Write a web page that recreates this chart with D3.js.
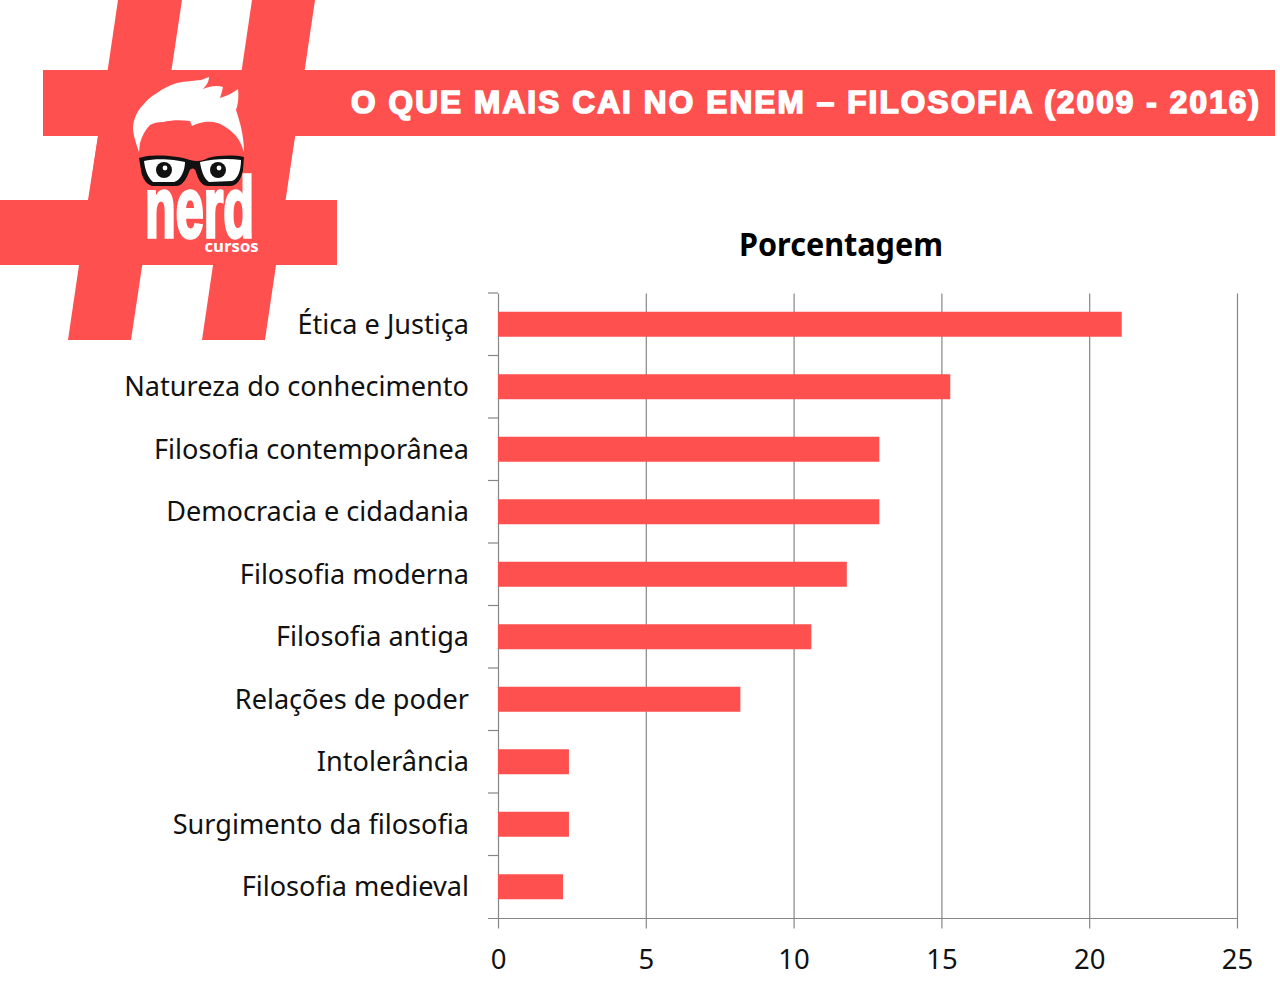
<!DOCTYPE html>
<html><head><meta charset="utf-8">
<script src="https://cdn.jsdelivr.net/npm/d3@7"></script>
<style>html,body{margin:0;padding:0;background:#fff}svg{display:block}</style>
</head><body><svg id="c" width="1280" height="989"></svg>
<script>
const categories=["Ética e Justiça","Natureza do conhecimento","Filosofia contemporânea","Democracia e cidadania","Filosofia moderna","Filosofia antiga","Relações de poder","Intolerância","Surgimento da filosofia","Filosofia medieval"];
const values=[21.1,15.3,12.9,12.9,11.8,10.6,8.2,2.4,2.4,2.2];
const xTicks=[0,5,10,15,20,25];
const chartTitle="Porcentagem";
const bannerTitle="O QUE MAIS CAI NO ENEM – FILOSOFIA (2009 - 2016)";
const red="#ff5050", axisCol="#868686", labelFont="'Noto Sans','Open Sans',sans-serif";

const svg=d3.select("#c");
// logo / banner decoration
const logo=svg.append("g");
[[[118,0],[182,0],[131,340],[68,340]],[[252,0],[315,0],[265,340],[202,340]],
 [[43,70],[1275,70],[1275,136],[43,136]],[[0,200],[337,200],[337,265],[0,265]],
 [[98,136],[295,136],[285,200],[88,200]]]
 .forEach(p=>logo.append("polygon").attr("points",p.join(" ")).attr("fill",red));
logo.append("path").attr("fill","#fff").attr("d","M139,152 C136,143 133,135 133,127 C134,118 137,111 143,105 C148,99 152,96 157,93 C164,88 170,85 177,83 C186,81 194,81 201,80 L209,77 C209,82 206,86 203,89 C210,86 218,85 223,87 C222,91 221,95 220,98 C227,96 233,93 238,89 C239,97 238,105 236,110 C240,122 244,136 244,152 C241,143 238,137 233,133 C227,127 220,123 213,122 C205,121 198,123 192,126 L190,121 C181,120 172,120 163,122 C158,122 153,123 150,125 C145,130 142,136 140,143 Z");
logo.append("text").attr("x",145).attr("y",237).attr("textLength",109).attr("lengthAdjust","spacingAndGlyphs")
  .attr("font-family","'Liberation Sans Narrow','Liberation Sans',sans-serif").attr("font-weight",700).attr("font-size",86)
  .attr("fill","#fff").attr("stroke","#fff").attr("stroke-width",3.5).text("nerd");
logo.append("path").attr("fill","#111").attr("d","M139,158 C150,154 176,155 190,160 C197,162 203,161 208,158 C220,155 235,155 244,157 L243,170 C241,180 237,185 231,186 L208,186 C202,186 198,180 196,172 C195,168 191,167 189,172 C186,180 182,186 176,186 L152,186 C146,184 142,178 141,170 Z");
logo.append("path").attr("fill","#fff").attr("d","M144,161 C155,158 174,159 185,162 C185,170 181,180 174,182 L153,182 C148,178 145,170 144,161 Z");
logo.append("path").attr("fill","#fff").attr("d","M200,162 C212,159 228,158 241,160 C241,170 238,179 232,181 L209,182 C204,179 201,170 200,162 Z");
[[164,170],[218,170]].forEach(([cx,cy])=>{
  logo.append("circle").attr("cx",cx).attr("cy",cy).attr("r",8).attr("fill","#111");
  logo.append("circle").attr("cx",cx+1).attr("cy",cy-2).attr("r",2.4).attr("fill","#fff");
});
logo.append("text").attr("x",231.5).attr("y",252).attr("text-anchor","middle").attr("textLength",54).attr("lengthAdjust","spacingAndGlyphs")
  .attr("font-family","'Open Sans',sans-serif").attr("font-weight",700).attr("font-size",16.5).attr("fill","#fff").text("cursos");
logo.append("text").attr("x",351).attr("y",113).attr("textLength",908).attr("lengthAdjust","spacing")
  .attr("font-family","'Liberation Sans',Arial,sans-serif").attr("font-weight",700).attr("font-size",31.5)
  .attr("fill","#fff").attr("stroke","#fff").attr("stroke-width",1.7).text(bannerTitle);

// chart
const x=d3.scaleLinear().domain([0,25]).range([498,1237]);
const y=d3.scaleBand().domain(categories).range([293,918]).paddingInner(0.6).paddingOuter(0.3);
const step=y.step();

svg.append("text").attr("x",841).attr("y",256).attr("text-anchor","middle")
  .attr("font-family",labelFont).attr("font-weight",700).attr("font-size",31.5).attr("textLength",204).attr("lengthAdjust","spacingAndGlyphs").attr("fill","#000").text(chartTitle);

const xAxis=d3.axisBottom(x).tickValues(xTicks).tickSize(-625).tickPadding(0).tickFormat(d3.format("d"));
const gx=svg.append("g").attr("transform","translate(0,918.5)").call(xAxis);
gx.select(".domain").remove();
gx.selectAll(".tick line").attr("stroke",axisCol).attr("stroke-width",1.2).attr("y1",10);
gx.selectAll(".tick text").attr("y",50).attr("dy",0).attr("font-family",labelFont).attr("font-size",27.5).attr("fill","#111");
svg.append("line").attr("x1",488).attr("x2",x(25)).attr("y1",918.5).attr("y2",918.5).attr("stroke",axisCol).attr("stroke-width",1.2);

// category separators ticks on the y axis
const yLine=svg.append("g");
categories.forEach((c,i)=>yLine.append("line").attr("x1",488).attr("x2",x(0)).attr("y1",293+i*step).attr("y2",293+i*step).attr("stroke",axisCol).attr("stroke-width",1.2));

svg.append("g").selectAll("rect").data(values).join("rect")
  .attr("x",x(0)).attr("y",(d,i)=>y(categories[i])).attr("width",d=>x(d)-x(0)).attr("height",y.bandwidth()).attr("fill",red);

svg.append("g").selectAll("text").data(categories).join("text")
  .attr("x",469).attr("y",d=>y(d)+y.bandwidth()/2).attr("dy","0.35em").attr("text-anchor","end")
  .attr("font-family",labelFont).attr("font-size",27.1).attr("fill","#111").text(d=>d);
</script></body></html>
